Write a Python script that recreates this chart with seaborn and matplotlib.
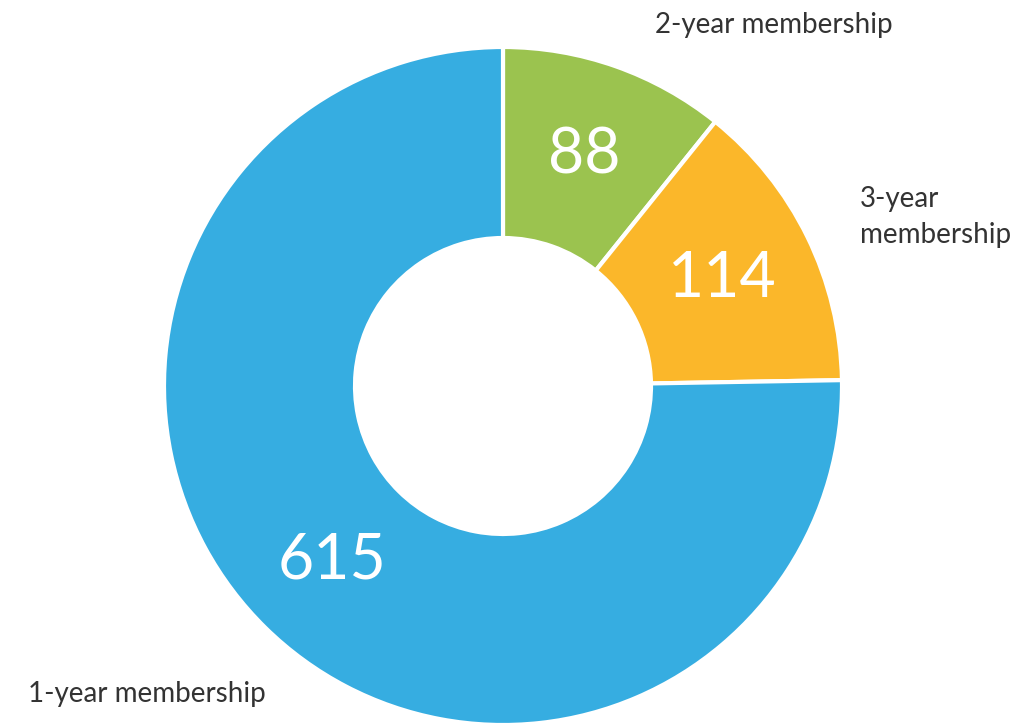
import matplotlib
matplotlib.use("Agg")
import matplotlib.pyplot as plt
import seaborn as sns

categories = ["2-year membership", "3-year\nmembership", "1-year membership"]
values = [88, 114, 615]
colors = ["#9BC34F", "#FBB72A", "#36ADE1"]

sns.set_theme(style="white")
plt.rcParams['font.family'] = ['Lato', 'DejaVu Sans']

fig = plt.figure(figsize=(10.27, 7.27), dpi=100)
ax = fig.add_axes([0, 0, 1, 1])

R = 339
cx, cy = 503, 341
wedges, texts, autotexts = ax.pie(
    values, colors=colors, startangle=90, counterclock=False,
    center=(cx, cy), radius=R,
    wedgeprops=dict(width=R - 148, edgecolor="white", linewidth=3),
    autopct=lambda p: f"{round(p * sum(values) / 100):d}",
    pctdistance=0.72,
    textprops=dict(color="white", fontsize=45, fontweight="normal"),
)
ax.set_xlim(0, 1027)
ax.set_ylim(0, 727)
ax.set_aspect("equal")
ax.axis("off")

label_kw = dict(color="#333333", fontsize=20, fontweight="normal")
ax.text(655, 702, categories[0], ha="left", va="center", **label_kw)
ax.text(860, 510, categories[1], ha="left", va="center", linespacing=1.45, **label_kw)
ax.text(28, 33, categories[2], ha="left", va="center", **label_kw)

fig.savefig("out.png", dpi=100)
